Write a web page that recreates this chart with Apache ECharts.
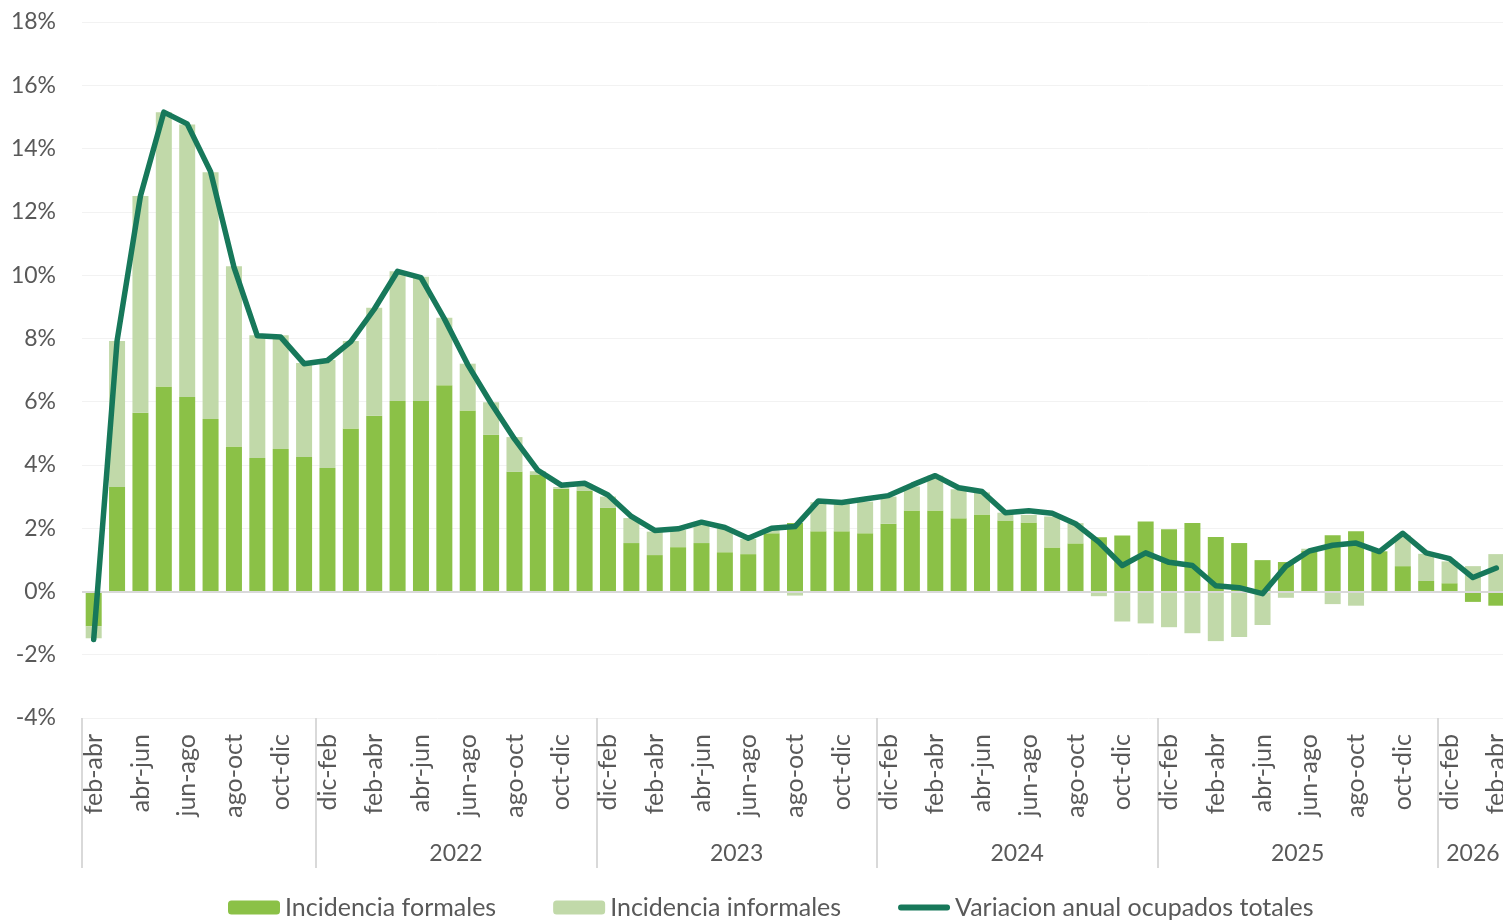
<!DOCTYPE html>
<html>
<head>
<meta charset="utf-8">
<script src="https://cdn.jsdelivr.net/npm/echarts@6/dist/echarts.min.js"></script>
<style>
  html, body { margin: 0; padding: 0; background: #fff; }
  #chart { width: 1503px; height: 921px; }
</style>
</head>
<body>
<div id="chart"></div>
<script>
// trimestres moviles, feb-abr 2021 .. feb-abr 2026
const months = ['dic-feb', 'ene-mar', 'feb-abr', 'mar-may', 'abr-jun', 'may-jul',
  'jun-ago', 'jul-sep', 'ago-oct', 'sep-nov', 'oct-dic', 'nov-ene'];
const categories = months.slice(2)
  .concat(months, months, months, months)
  .concat(months.slice(0, 3));

// years shown under the groups, and where each group starts
const years = ['', '2022', '2023', '2024', '2025', '2026'];
const groupStart = [0, 10, 22, 34, 46, 58, 61];

const formales = [
  -1.10, 3.30, 5.65, 6.48, 6.15, 5.45, 4.58, 4.22, 4.50, 4.25,
  3.90, 5.15, 5.55, 6.02, 6.02, 6.52, 5.72, 4.95, 3.78, 3.68, 3.25, 3.18,
  2.64, 1.53, 1.15, 1.40, 1.53, 1.24, 1.18, 1.84, 2.16, 1.90, 1.90, 1.84,
  2.14, 2.56, 2.56, 2.31, 2.43, 2.24, 2.18, 1.39, 1.52, 1.71, 1.77, 2.21,
  1.97, 2.16, 1.72, 1.53, 0.99, 0.93, 1.28, 1.78, 1.90, 1.27, 0.80, 0.33,
  0.26, -0.33, -0.45
];

const informales = [
  -0.38, 4.62, 6.85, 8.67, 8.61, 7.80, 5.70, 3.88, 3.60, 2.97,
  3.42, 2.77, 3.42, 4.10, 3.93, 2.13, 1.48, 1.03, 1.10, 0.12, 0.05, 0.22,
  0.36, 0.79, 0.74, 0.54, 0.63, 0.76, 0.48, 0.10, -0.13, 0.92, 0.86, 1.00,
  0.86, 0.76, 1.10, 0.92, 0.70, 0.25, 0.24, 0.98, 0.64, -0.15, -0.95, -1.01,
  -1.13, -1.32, -1.57, -1.44, -1.06, -0.20, 0.07, -0.40, -0.45, -0.05, 0.97, 0.86,
  0.69, 0.80, 1.18
];

const totales = [
  -1.52, 7.92, 12.50, 15.15, 14.78, 13.27, 10.25, 8.08, 8.04, 7.20,
  7.30, 7.90, 8.92, 10.12, 9.92, 8.62, 7.17, 5.95, 4.82, 3.83, 3.36, 3.42,
  3.05, 2.37, 1.93, 1.98, 2.19, 2.02, 1.68, 2.00, 2.05, 2.86, 2.81, 2.92,
  3.03, 3.36, 3.66, 3.28, 3.16, 2.49, 2.55, 2.47, 2.14, 1.56, 0.82, 1.22,
  0.92, 0.82, 0.18, 0.12, -0.07, 0.80, 1.28, 1.46, 1.53, 1.26, 1.84, 1.22,
  1.04, 0.44, 0.74
];

const yTicks = { min: -4, max: 18, step: 2 };

// centre of each year group (in category units) for the year labels
let yearPos = [];
for (let i = 0; i < years.length; i++) {
  yearPos.push((groupStart[i] + groupStart[i + 1]) / 2);
}

const font = 'Lato, "Open Sans", sans-serif';
const grey = '#595959';

let mychart = echarts.init(document.getElementById('chart'));
let option = {
  animation: false,
  textStyle: { fontFamily: font },
  // plot runs a little past the right edge, like the original
  grid: { left: 82, width: 1426, top: 22, bottom: 203, outerBoundsMode: 'none' },
  legend: {
    left: 223,
    top: 890,
    itemWidth: 52,
    itemHeight: 14,
    itemGap: 57,
    textStyle: { fontSize: 25, color: grey, fontFamily: font },
    data: [
      { name: 'Incidencia formales' },
      { name: 'Incidencia informales' },
      { name: 'Variacion anual ocupados totales', icon: 'path://M3,0 L51,0 A3,3 0 0 1 51,6 L3,6 A3,3 0 0 1 3,0 Z' }
    ]
  },
  xAxis: [{
    type: 'category',
    data: categories,
    axisLine: { show: false },
    axisTick: { show: false },
    axisLabel: {
      interval: 1,
      rotate: 90,
      margin: 16,
      fontSize: 25,
      color: grey
    }
  }, {
    type: 'value',
    min: 0,
    max: categories.length,
    position: 'bottom',
    axisLine: { show: false },
    splitLine: { show: false },
    axisTick: {
      show: true,
      customValues: groupStart.slice(0, -1),
      length: 150,
      lineStyle: { color: '#d9d9d9', width: 2 }
    },
    axisLabel: {
      customValues: yearPos,
      margin: 124,
      fontSize: 23,
      color: grey,
      formatter: function (v) {
        let k = yearPos.indexOf(v);
        return k >= 0 ? years[k] : '';
      }
    }
  }],
  yAxis: {
    type: 'value',
    min: yTicks.min,
    max: yTicks.max,
    interval: yTicks.step,
    axisLine: { show: false },
    axisTick: { show: false },
    axisLabel: { formatter: '{value}%', fontSize: 23, color: grey, margin: 26 },
    splitLine: { lineStyle: { color: '#f2f2f2', width: 1 } }
  },
  series: [{
    name: 'Incidencia formales',
    type: 'bar',
    stack: 'inc',
    barWidth: 16,
    itemStyle: { color: '#8bc147' },
    data: formales,
    markLine: {
      silent: true,
      symbol: 'none',
      label: { show: false },
      lineStyle: { color: '#d9d9d9', width: 2, type: 'solid' },
      data: [{ yAxis: 0 }]
    }
  }, {
    name: 'Incidencia informales',
    type: 'bar',
    stack: 'inc',
    barWidth: 16,
    itemStyle: { color: '#c1d9a9' },
    data: informales
  }, {
    name: 'Variacion anual ocupados totales',
    type: 'line',
    symbol: 'none',
    z: 5,
    lineStyle: { color: '#17785a', width: 5.5, cap: 'round', join: 'round' },
    itemStyle: { color: '#17785a' },
    data: totales
  }]
};
mychart.setOption(option);
</script>
</body>
</html>
